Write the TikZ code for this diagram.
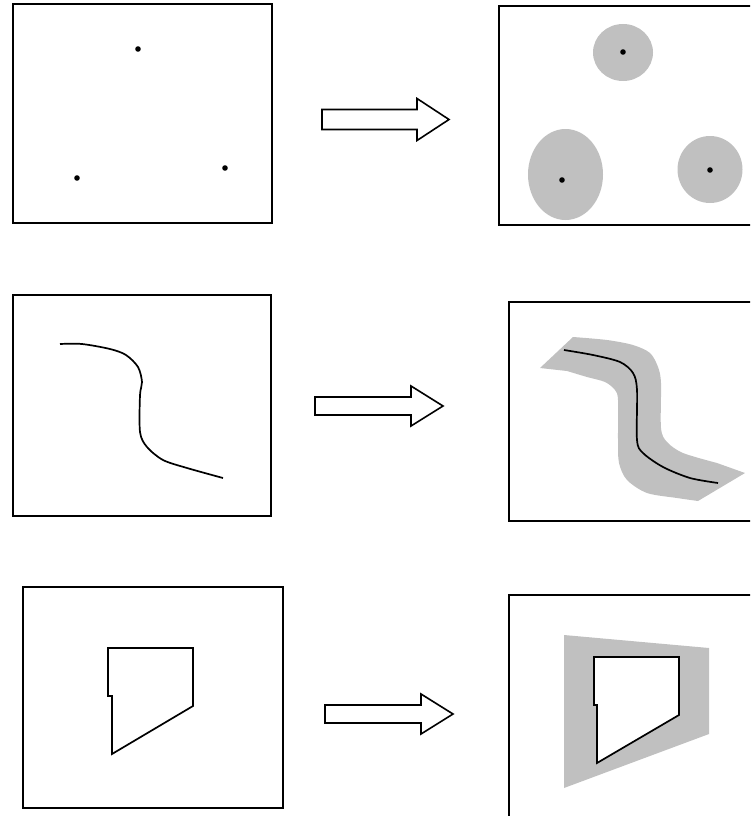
\documentclass[tikz,border=0pt]{standalone}
\usepackage{tikz}
\usetikzlibrary{calc}
\definecolor{bufgray}{HTML}{C0C0C0}

\begin{document}
\begin{tikzpicture}[
    x=1pt, y=-1pt,
    frame/.style={draw, line width=2pt},
    shape line/.style={draw, line width=1.7pt, line join=miter},
    region/.style={fill=bufgray},
    dot/.style={fill=black},
    block arrow/.style={draw, fill=white, line width=1.6pt, line join=miter}
]
\useasboundingbox (0,0) rectangle (750,816);
\clip (0,0) rectangle (750,816);

% block arrow: shaft left end, half shaft height, head base, half head height, tip
\newcommand{\bufarrow}[6]{%
  \path[block arrow] (#1,#2-#3) -- (#4,#2-#3) -- (#4,#2-#5) -- (#6,#2)
    -- (#4,#2+#5) -- (#4,#2+#3) -- (#1,#2+#3) -- cycle;}

% Row 1: points
\draw[frame] (13,4) coordinate (pts-nw) rectangle (272,223) coordinate (pts-se);
\fill[dot] (138,49) circle (2.8) (77,178) circle (2.8) (225,168) circle (2.8);
\bufarrow{322}{119.5}{10}{417}{21}{449}
\fill[region] (623,52.5) ellipse (30 and 28.5)
              (565.5,174.5) ellipse (37.5 and 45.5)
              (710,169.5) ellipse (32.5 and 33.5);
\fill[dot] (623,52) circle (2.8) (562,180) circle (2.8) (710,170) circle (2.8);
\draw[frame] (499,6) coordinate (ptsbuf-nw) rectangle (760,225) coordinate (ptsbuf-se);

% Row 2: line
\draw[frame] (13,295) coordinate (line-nw) rectangle (271,516) coordinate (line-se);
\draw[shape line] plot[smooth, tension=0.5] coordinates {(60,344) (82,344) (110,349) (126,355)
  (138,367) (142,382) (140,395) (140,432) (147,447) (163,460) (187,468) (223,478)};
\bufarrow{315}{406}{9}{411}{20}{443}
\fill[region] (540,368) -- plot[smooth, tension=0.5] coordinates {(573,337) (607,340) (633,345)
  (650,353) (658,367) (661,383) (661,428) (667,442) (683,453) (717,463)}
  -- (745,473) -- plot[smooth, tension=0.5] coordinates {(698,501) (677,498) (647,493)
  (627,480) (619,463) (618,440) (618,400) (615,390) (605,382) (587,377) (567,371)} -- cycle;
\draw[shape line] plot[smooth, tension=0.5] coordinates {(564,350) (593,355) (620,362)
  (633,373) (637,390) (637,440) (643,453) (663,467) (690,478) (718,483)};
\draw[frame] (509,302) coordinate (linebuf-nw) rectangle (760,521) coordinate (linebuf-se);

% Row 3: polygon
\draw[frame] (23,587) coordinate (poly-nw) rectangle (283,808) coordinate (poly-se);
\draw[shape line] (108,648) -- (193,648) -- (193,706) -- (112,754) -- (112,696)
  -- (108,696) -- cycle;
\bufarrow{325}{714}{9}{421}{20}{453}
\fill[region] (564,635) -- (709,648) -- (709,734) -- (564,788) -- cycle;
\filldraw[shape line, fill=white] (594,657) -- (679,657) -- (679,715) -- (597,763)
  -- (597,705) -- (594,705) -- cycle;
\draw[frame] (509,595) coordinate (polybuf-nw) rectangle (760,830) coordinate (polybuf-se);
\end{tikzpicture}
\end{document}
